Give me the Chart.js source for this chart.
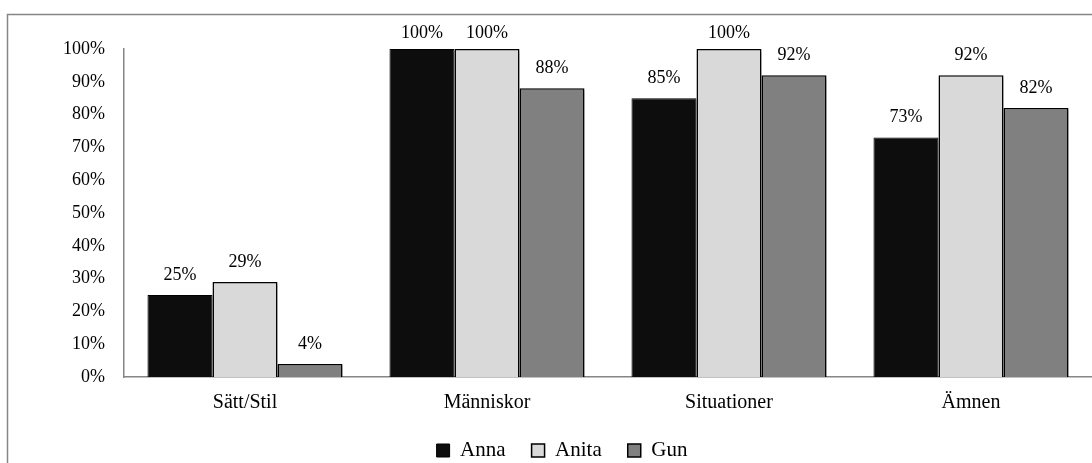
<!DOCTYPE html>
<html>
<head>
<meta charset="utf-8">
<script src="https://cdn.jsdelivr.net/npm/chart.js@4"></script>
<style>
html,body{margin:0;padding:0;background:#fff;}
#wrap{width:1092px;height:463px;position:relative;}
</style>
</head>
<body>
<div id="wrap"><canvas id="c" width="1092" height="463"></canvas></div>
<script>
const categories = ['Sätt/Stil', 'Människor', 'Situationer', 'Ämnen'];
const anna = [25, 100, 85, 73];
const anita = [29, 100, 100, 92];
const gun = [4, 88, 92, 82];
const seriesNames = ['Anna', 'Anita', 'Gun'];
const yTicks = [0, 10, 20, 30, 40, 50, 60, 70, 80, 90, 100];

const FONT = "'Liberation Serif', 'Times New Roman', serif";
const LEGEND_PAD = 26;

const framePlugin = {
  id: 'frame',
  beforeInit(chart) {
    const lg = chart.legend;
    if (lg) {
      const origFit = lg.fit.bind(lg);
      lg.fit = function () { origFit(); this.height = 28; };
    }
  },
  beforeDraw(chart) {
    const ctx = chart.ctx;
    ctx.save();
    ctx.strokeStyle = '#868686';
    ctx.lineWidth = 1.5;
    ctx.beginPath();
    ctx.moveTo(7.5, chart.height + 2);
    ctx.lineTo(7.5, 14.5);
    ctx.lineTo(chart.width + 2, 14.5);
    ctx.stroke();
    ctx.restore();
  },
  afterLayout(chart) {
    const lg = chart.legend;
    if (lg) {
      lg.left += 16; lg.right += 16;
      lg.top = 449 - 35;
      lg.bottom = 490;
      lg.height = lg.bottom - lg.top;
    }
  },
  beforeDatasetsDraw(chart) {
    const ctx = chart.ctx;
    ctx.save();
    ctx.shadowColor = 'rgba(0,0,0,0.35)';
    ctx.shadowBlur = 3;
    ctx.shadowOffsetX = 1.5;
    ctx.shadowOffsetY = 2;
  },
  afterDatasetsDraw(chart) {
    const ctx = chart.ctx;
    ctx.restore();
    ctx.save();
    ctx.fillStyle = '#000';
    ctx.font = '18px ' + FONT;
    ctx.textAlign = 'center';
    ctx.textBaseline = 'middle';
    chart.data.datasets.forEach((ds, i) => {
      const meta = chart.getDatasetMeta(i);
      meta.data.forEach((bar, j) => {
        ctx.fillText(ds.data[j] + '%', bar.x, Math.max(bar.y - 20, 33.5));
      });
    });
    ctx.restore();
  }
};

new Chart(document.getElementById('c'), {
  type: 'bar',
  data: {
    labels: categories,
    datasets: [
      { label: seriesNames[0], data: anna, backgroundColor: '#0d0d0d', borderColor: '#000', borderWidth: 1 },
      { label: seriesNames[1], data: anita, backgroundColor: '#d9d9d9', borderColor: '#000', borderWidth: 1.5 },
      { label: seriesNames[2], data: gun, backgroundColor: '#808080', borderColor: '#000', borderWidth: 1.5 }
    ]
  },
  options: {
    responsive: false,
    animation: false,
    devicePixelRatio: 1,
    layout: { padding: { top: 49, left: 0, right: 0, bottom: 0 } },
    datasets: { bar: { categoryPercentage: 0.806, barPercentage: 1 } },
    plugins: {
      legend: {
        position: 'bottom',
        labels: {
          font: { family: FONT, size: 21 },
          color: '#000',
          boxWidth: 13,
          boxHeight: 13,
          padding: LEGEND_PAD
        }
      },
      tooltip: { enabled: false }
    },
    scales: {
      x: {
        grid: { display: false, drawTicks: false },
        border: { display: true, color: '#868686', width: 1.5 },
        ticks: { font: { family: FONT, size: 20 }, color: '#000', padding: 14, maxRotation: 0 },
        afterFit(s) { s.height = 58; }
      },
      y: {
        min: 0, max: 100,
        grid: { display: false, drawTicks: false },
        border: { display: true, color: '#868686', width: 1.5 },
        afterBuildTicks(s) { s.ticks = yTicks.map(v => ({ value: v })); },
        ticks: { font: { family: FONT, size: 18 }, color: '#000', padding: 19, callback: v => v + '%' },
        afterFit(s) { s.width = 124; }
      }
    }
  },
  plugins: [framePlugin]
});
</script>
</body>
</html>
